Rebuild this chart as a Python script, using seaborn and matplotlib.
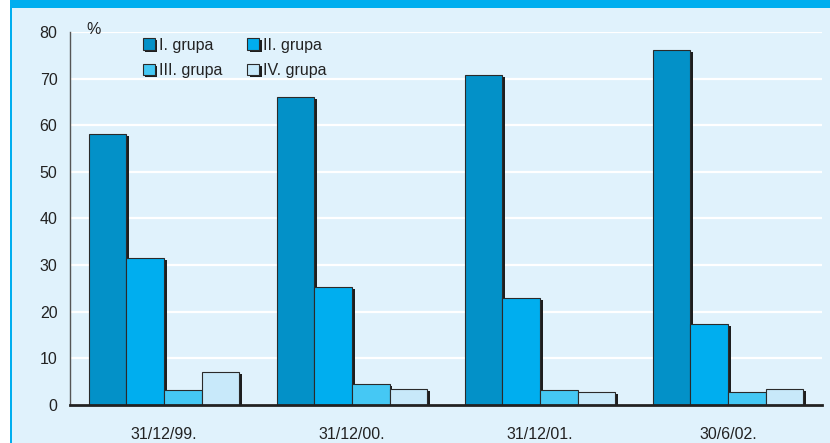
import matplotlib
matplotlib.use("Agg")
import matplotlib.pyplot as plt
import matplotlib.patheffects as pe
from matplotlib.patches import Rectangle
import seaborn as sns
import pandas as pd

datumi = ['31/12/99.', '31/12/00.', '31/12/01.', '30/6/02.']
grupe = ['I. grupa', 'II. grupa', 'III. grupa', 'IV. grupa']
grupa_1 = [58.1, 66.1, 70.8, 76.1]
grupa_2 = [31.6, 25.4, 23.0, 17.4]
grupa_3 = [3.3, 4.5, 3.2, 2.7]
grupa_4 = [7.0, 3.5, 2.8, 3.4]
boje = ['#0391C8', '#00AEEF', '#45C8F4', '#C8E9FA']

sns.set_style("white")
plt.rcParams['font.family'] = ['Liberation Sans', 'DejaVu Sans']

df = pd.DataFrame({
    'datum': datumi * 4,
    'grupa': [g for g in grupe for _ in datumi],
    'udio': grupa_1 + grupa_2 + grupa_3 + grupa_4,
})

fig = plt.figure(figsize=(8.3, 4.43), dpi=100)
fig.patch.set_facecolor('white')
# pozadina panela, gornja traka i lijevi rub
fig.add_artist(Rectangle((11/830, 0), 1, 1, transform=fig.transFigure,
                         facecolor='#E0F2FC', edgecolor='none', zorder=-3))
fig.add_artist(Rectangle((11/830, 1 - 8/443), 1, 8/443, transform=fig.transFigure,
                         facecolor='#00AEEF', edgecolor='none', zorder=-2))
fig.add_artist(Rectangle((10/830, 0), 2/830, 1, transform=fig.transFigure,
                         facecolor='#00AEEF', edgecolor='none', zorder=-2))

ax = fig.add_axes([70/830, 38/443, 752/830, 373/443])
ax.set_facecolor('none')

sns.barplot(data=df, x='datum', y='udio', hue='grupa', order=datumi,
            hue_order=grupe, palette=boje, width=0.8, saturation=1,
            edgecolor='#2a2a2a', linewidth=0.8, ax=ax, zorder=3)

for bar in ax.patches:
    bar.set_path_effects([pe.SimplePatchShadow(offset=(1.8, -1.5),
                                               shadow_rgbFace='#1e1e1e', alpha=1),
                          pe.Normal()])

ax.set_ylim(0, 80)
ax.set_xlim(-0.5, 3.5)
ax.set_yticks(range(0, 81, 10))
ax.yaxis.grid(True, color='white', linewidth=1.6, zorder=0)
ax.set_axisbelow(True)

for s in ['top', 'right']:
    ax.spines[s].set_visible(False)
ax.spines['left'].set_color('#555555')
ax.spines['left'].set_linewidth(1.0)
ax.spines['bottom'].set_color('#222222')
ax.spines['bottom'].set_linewidth(2.0)
ax.spines['bottom'].set_zorder(4)

ax.tick_params(axis='y', direction='out', length=6, width=1.0, color='#555555',
               labelsize=11.5, labelcolor='#222222', pad=3)
ax.tick_params(axis='x', which='major', length=0, labelsize=11.5,
               labelcolor='#222222', pad=16)
ax.set_xticks([-0.5, 0.5, 1.5, 2.5, 3.5], minor=True)
ax.tick_params(axis='x', which='minor', direction='out', length=6, width=1.0,
               color='#888888')
ax.set_xlabel('')
ax.set_ylabel('')

ax.text(0.022, 1.008, '%', transform=ax.transAxes, fontsize=11.5,
        color='#222222', ha='left', va='center')

h, l = ax.get_legend_handles_labels()
red = [0, 2, 1, 3]
ax.legend([h[i] for i in red], [l[i] for i in red], ncol=2, frameon=False,
          loc='upper left', bbox_to_anchor=(0.097, 0.985), borderpad=0,
          borderaxespad=0, fontsize=11.5, handlelength=0.75, handleheight=0.75,
          handletextpad=0.25, columnspacing=1.55, labelspacing=0.65,
          labelcolor='#222222')

fig.savefig('out.png', dpi=100, facecolor=fig.get_facecolor())
